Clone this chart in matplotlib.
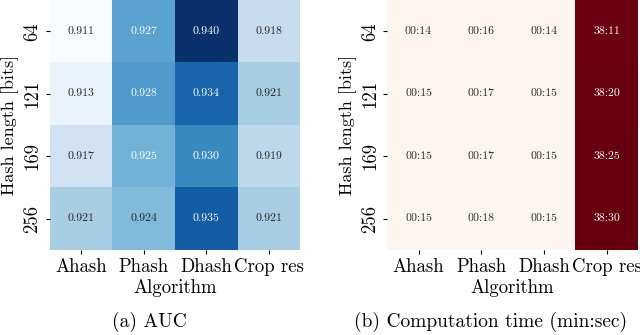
import matplotlib
matplotlib.use("Agg")
import matplotlib.pyplot as plt
import numpy as np
import seaborn as sns

algorithms = ["Ahash", "Phash", "Dhash", "Crop res"]
hash_lengths = ["64", "121", "169", "256"]

auc = [
    [0.911, 0.927, 0.940, 0.918],
    [0.913, 0.928, 0.934, 0.921],
    [0.917, 0.925, 0.930, 0.919],
    [0.921, 0.924, 0.935, 0.921],
]

# computation time as "min:sec"
times = [
    ["00:14", "00:16", "00:14", "38:11"],
    ["00:15", "00:17", "00:15", "38:20"],
    ["00:15", "00:17", "00:15", "38:25"],
    ["00:15", "00:18", "00:15", "38:30"],
]


def to_seconds(t):
    m, s = t.split(":")
    return int(m) * 60 + int(s)


plt.rcParams["font.family"] = "serif"
plt.rcParams["font.serif"] = ["cmr10", "DejaVu Serif"]
plt.rcParams["axes.formatter.use_mathtext"] = True

fig = plt.figure(figsize=(6.4, 3.35), dpi=100)
ax1 = fig.add_axes([0.078, 0.254, 0.391, 0.746])
ax2 = fig.add_axes([0.605, 0.254, 0.392, 0.746])

sns.heatmap(np.array(auc), ax=ax1, cmap="Blues", annot=True, fmt=".3f", cbar=False,
            annot_kws={"fontsize": 8.5}, xticklabels=algorithms, yticklabels=hash_lengths)

secs = np.array([[to_seconds(t) for t in row] for row in times])
sns.heatmap(secs, ax=ax2, cmap="Reds", annot=np.array(times), fmt="", cbar=False,
            annot_kws={"fontsize": 8.5}, xticklabels=algorithms, yticklabels=hash_lengths)

for ax in (ax1, ax2):
    ax.set_xlabel("Algorithm", fontsize=13.5, labelpad=2)
    ax.set_ylabel("Hash length [bits]", fontsize=13, labelpad=3)
    ax.tick_params(axis="both", labelsize=13.5, length=3, pad=3)
    plt.setp(ax.get_yticklabels(), rotation=90, va="center")
    plt.setp(ax.get_xticklabels(), rotation=0)

# subfigure captions
fig.text(0.234, 0.039, "(a) AUC", ha="center", va="center", fontsize=14)
fig.text(0.767, 0.039, "(b) Computation time (min:sec)", ha="center", va="center", fontsize=14)

fig.savefig("out.png", dpi=100)
